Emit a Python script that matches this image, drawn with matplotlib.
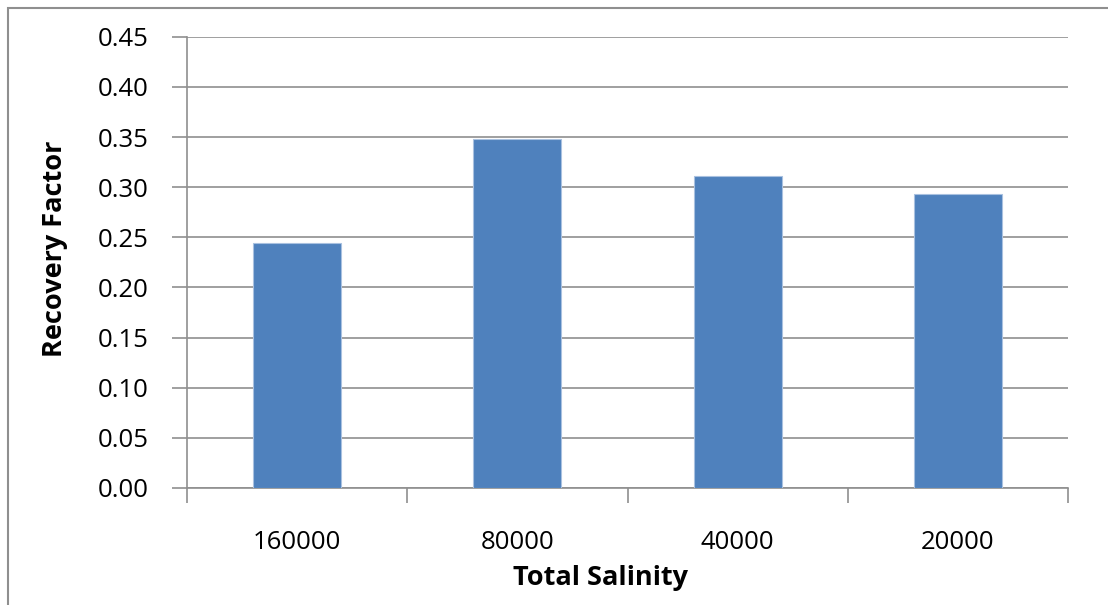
import numpy as np
import matplotlib.pyplot as plt
from matplotlib.patches import Rectangle

# Recovery factor by total salinity (ppm)
salinidad = ['160000', '80000', '40000', '20000']
factor_recobro = [0.244, 0.348, 0.311, 0.293]

plt.rcParams['font.family'] = ['Open Sans', 'DejaVu Sans']

gris = '#8f8f8f'
azul = '#4f81bd'

fig = plt.figure(figsize=(11.08, 6.05), dpi=100)
ax = fig.add_axes([0.1688, 0.1934, 0.7951, 0.7459])

x = np.arange(len(salinidad))
ax.bar(x, factor_recobro, width=0.4, color=azul, edgecolor='#a9c1e0',
       linewidth=0.8, zorder=3)

ax.set_xlim(-0.5, len(salinidad) - 0.5)
ax.set_ylim(0, 0.45)
ax.set_yticks(np.arange(0, 0.451, 0.05))
ax.yaxis.set_major_formatter(plt.FormatStrFormatter('%.2f'))
ax.grid(axis='y', color=gris, linewidth=1.2, zorder=0)

# etiquetas en el centro, marcas en los bordes de cada categoría
ax.set_xticks(x)
ax.set_xticklabels(salinidad)
ax.set_xticks(np.arange(-0.5, len(salinidad)), minor=True)
ax.tick_params(axis='x', which='major', length=0, pad=30, labelsize=18.5)
ax.tick_params(axis='x', which='minor', length=11, width=1.2, color=gris)
ax.tick_params(axis='y', length=11, width=1.2, color=gris, pad=16.5,
               labelsize=18.5)

for lado in ['top', 'right']:
    ax.spines[lado].set_visible(False)
for lado in ['left', 'bottom']:
    ax.spines[lado].set_color(gris)
    ax.spines[lado].set_linewidth(1.2)

ax.set_xlabel('Total Salinity', fontsize=19.5, fontweight='bold', va='center')
ax.set_ylabel('Recovery Factor', fontsize=19.5, fontweight='bold', va='center')
ax.xaxis.set_label_coords(0.469, -0.199)
ax.yaxis.set_label_coords(-0.150, 0.531)

# marco exterior del gráfico
fig.patches.append(Rectangle((8 / 1108, -0.1), 1.2, 1.1 - 8 / 605,
                             transform=fig.transFigure, fill=False,
                             edgecolor=gris, linewidth=1.5))

fig.savefig('out.png', dpi=100)
